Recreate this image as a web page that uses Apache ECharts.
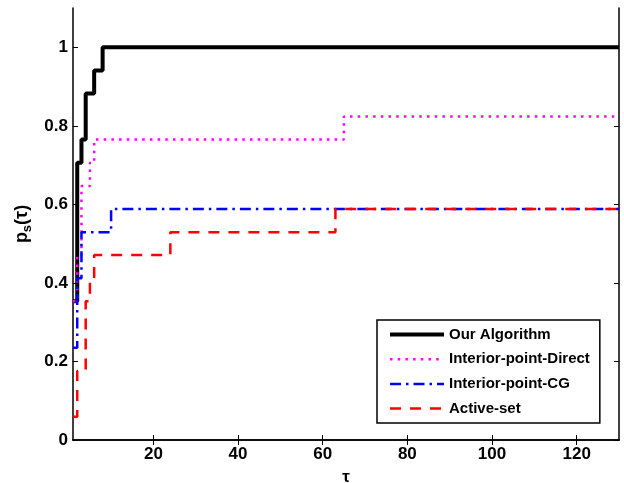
<!DOCTYPE html>
<html>
<head>
<meta charset="utf-8">
<script src="https://cdn.jsdelivr.net/npm/echarts@6/dist/echarts.min.js"></script>
<style>html,body{margin:0;padding:0;background:#fff;}#c{width:624px;height:483px;}</style>
</head>
<body>
<div id="c"></div>
<script>
// Step data (value y holds from tau x until the next x)
const ourX = [1, 2, 3, 4, 6, 8, 130];
const ourY = [0.353, 0.706, 0.765, 0.882, 0.941, 1, 1];
const ipdX = [1, 2, 3, 5, 6, 65, 130];
const ipdY = [0.353, 0.471, 0.647, 0.706, 0.765, 0.824, 0.824];
const ipcgX = [1, 2, 3, 10, 130];
const ipcgY = [0.235, 0.412, 0.529, 0.588, 0.588];
const asX = [1, 2, 4, 5, 6, 24, 63, 130];
const asY = [0.059, 0.176, 0.353, 0.412, 0.471, 0.529, 0.588, 0.588];
const seriesNames = ['Our Algorithm', 'Interior-point-Direct', 'Interior-point-CG', 'Active-set'];
const xTicks = [20, 40, 60, 80, 100, 120];
const yTicks = [0, 0.2, 0.4, 0.6, 0.8, 1];

const FONT = '"Liberation Sans", Arial, Helvetica, sans-serif';
function pairs(xs, ys) { return xs.map((x, i) => [x, ys[i]]); }

const styles = [
  { color: '#000000', width: 4, type: 'solid' },
  { color: '#ff00ff', width: 2.5, type: [2.5, 5.2] },
  { color: '#0000ff', width: 2.5, type: [11, 5, 2.5, 5] },
  { color: '#ff0000', width: 2.5, type: [11, 9] }
];
const datas = [pairs(ourX, ourY), pairs(ipdX, ipdY), pairs(ipcgX, ipcgY), pairs(asX, asY)];

const chart = echarts.init(document.getElementById('c'));
const axisLine = { show: true, lineStyle: { color: '#000', width: 1.5 } };
const tickStyle = { lineStyle: { color: '#000', width: 1 } };

chart.setOption({
  animation: false,
  backgroundColor: '#fff',
  grid: { left: 73, right: 5, top: 8, bottom: 43, containLabel: false, outerBoundsMode: 'none' },
  xAxis: [
    {
      type: 'value', min: 1, max: 130, position: 'bottom',
      axisLine: axisLine,
      axisTick: Object.assign({ show: true, inside: true, length: 5, customValues: xTicks }, tickStyle),
      axisLabel: { customValues: xTicks, color: '#000', fontFamily: FONT, fontWeight: 'bold', fontSize: 17, margin: 6 },
      splitLine: { show: false },
      name: 'τ', nameLocation: 'middle', nameGap: 29,
      nameTextStyle: { color: '#000', fontFamily: FONT, fontWeight: 'bold', fontSize: 17 }
    },
    {
      type: 'value', min: 1, max: 130, position: 'top',
      axisLine: axisLine,
      axisTick: Object.assign({ show: true, inside: true, length: 5, customValues: xTicks }, tickStyle),
      axisLabel: { show: false },
      splitLine: { show: false }
    }
  ],
  yAxis: [
    {
      type: 'value', min: 0, max: 1.1, position: 'left',
      axisLine: axisLine,
      axisTick: Object.assign({ show: true, inside: true, length: 5, customValues: yTicks }, tickStyle),
      axisLabel: { customValues: yTicks, color: '#000', fontFamily: FONT, fontWeight: 'bold', fontSize: 17, margin: 5 },
      splitLine: { show: false },
      name: '{p|p}{s|s}{p|(τ)}', nameLocation: 'middle', nameGap: 37,
      nameTextStyle: {
        color: '#000', fontFamily: FONT, fontWeight: 'bold', fontSize: 18,
        rich: {
          p: { fontFamily: FONT, fontWeight: 'bold', fontSize: 18, color: '#000' },
          s: { fontFamily: FONT, fontWeight: 'bold', fontSize: 13, color: '#000', verticalAlign: 'bottom', padding: [9, 0, 0, 0] }
        }
      }
    },
    {
      type: 'value', min: 0, max: 1.1, position: 'right',
      axisLine: axisLine,
      axisTick: Object.assign({ show: true, inside: true, length: 5, customValues: yTicks }, tickStyle),
      axisLabel: { show: false },
      splitLine: { show: false }
    }
  ],
  legend: {
    orient: 'vertical', left: 377, top: 320,
    padding: [7, 10, 7, 11], itemGap: 9.7, itemWidth: 54, itemHeight: 14,
    borderColor: '#000', borderWidth: 1.5, backgroundColor: '#fff', borderRadius: 0,
    textStyle: { color: '#000', fontFamily: FONT, fontWeight: 'bold', fontSize: 15 },
    data: seriesNames.map((n, i) => ({
      name: n,
      itemStyle: { opacity: 0 },
      lineStyle: { color: styles[i].color, width: styles[i].width, type: styles[i].type, opacity: 1 }
    }))
  },
  series: seriesNames.map((n, i) => ({
    name: n, type: 'line', step: 'end', symbol: 'none', showSymbol: false,
    xAxisIndex: 0, yAxisIndex: 0,
    lineStyle: { color: styles[i].color, width: styles[i].width, type: styles[i].type, cap: 'butt' },
    itemStyle: { color: styles[i].color },
    data: datas[i]
  }))
});
</script>
</body>
</html>
